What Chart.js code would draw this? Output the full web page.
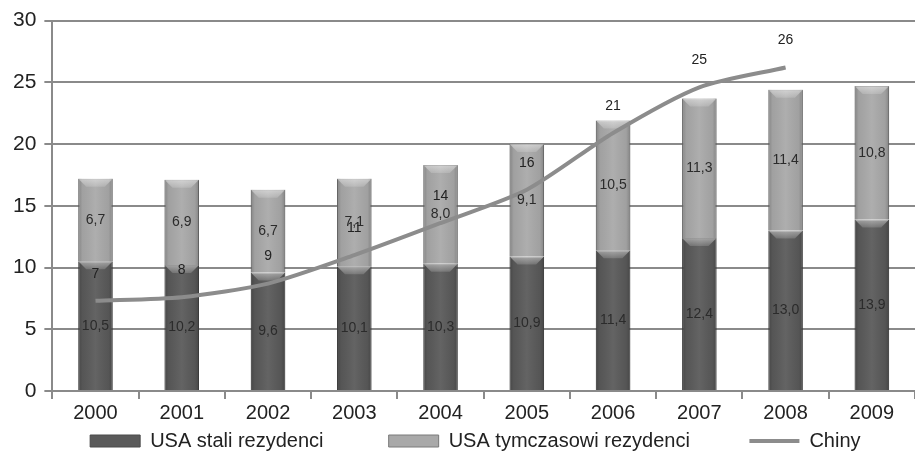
<!DOCTYPE html>
<html lang="pl">
<head>
<meta charset="UTF-8">
<script src="https://cdn.jsdelivr.net/npm/chart.js@4.4.0/dist/chart.umd.min.js"></script>
<title>Rezydenci</title>
<style>
  body { margin: 0; background: #fff; }
  #wrap { width: 915px; height: 456px; }
</style>
</head>
<body>
<div id="wrap"><canvas id="chart" width="915" height="456"></canvas></div>
<script>
const years = ['2000', '2001', '2002', '2003', '2004', '2005', '2006', '2007', '2008', '2009'];
const stali = [10.5, 10.2, 9.6, 10.1, 10.3, 10.9, 11.4, 12.4, 13.0, 13.9];
const tymczasowi = [6.7, 6.9, 6.7, 7.1, 8.0, 9.1, 10.5, 11.3, 11.4, 10.8];
const chiny = [7.3, 7.6, 8.7, 11.0, 13.6, 16.3, 20.9, 24.6, 26.2, null];
const yTicks = [0, 5, 10, 15, 20, 25, 30];
const legendOrder = ['USA stali rezydenci', 'USA tymczasowi rezydenci', 'Chiny'];

const FONT = "'Liberation Sans', Arial, sans-serif";

const fmt = v => v.toFixed(1).replace('.', ',');

// bevel look on the bars, drawn right after each bar dataset (so the line stays on top)
const bevel = {
  id: 'bevel',
  afterDatasetDraw(chart, args) {
    const ds = chart.data.datasets[args.index];
    if (ds.type === 'line') return;
    const ctx = chart.ctx;
    ctx.save();
    args.meta.data.forEach(bar => {
      const left = bar.x - bar.width / 2, right = bar.x + bar.width / 2;
      const top = Math.min(bar.y, bar.base), bottom = Math.max(bar.y, bar.base);
      const g = ctx.createLinearGradient(left, 0, right, 0);
      g.addColorStop(0, 'rgba(0,0,0,0.22)');
      g.addColorStop(0.12, 'rgba(0,0,0,0.05)');
      g.addColorStop(0.5, 'rgba(255,255,255,0.06)');
      g.addColorStop(0.88, 'rgba(0,0,0,0.05)');
      g.addColorStop(1, 'rgba(0,0,0,0.22)');
      ctx.fillStyle = g;
      ctx.fillRect(left, top, right - left, bottom - top);
      const b = 8;
      const tg = ctx.createLinearGradient(0, top, 0, top + b);
      tg.addColorStop(0, 'rgba(255,255,255,0.45)');
      tg.addColorStop(1, 'rgba(255,255,255,0.15)');
      ctx.fillStyle = tg;
      ctx.beginPath();
      ctx.moveTo(left, top);
      ctx.lineTo(right, top);
      ctx.lineTo(right - b, top + b);
      ctx.lineTo(left + b, top + b);
      ctx.closePath();
      ctx.fill();
    });
    ctx.restore();
  }
};

const valueLabels = {
  id: 'valueLabels',
  afterDatasetsDraw(chart) {
    const ctx = chart.ctx;
    ctx.save();
    ctx.textAlign = 'center';
    ctx.textBaseline = 'middle';
    ctx.font = '14px ' + FONT;
    chart.data.datasets.forEach((ds, i) => {
      const meta = chart.getDatasetMeta(i);
      meta.data.forEach((el, j) => {
        const v = ds.data[j];
        if (v == null) return;
        if (ds.type === 'line') {
          ctx.fillStyle = '#222';
          ctx.fillText(String(Math.round(v)), el.x, el.y - 27);
        } else {
          ctx.fillStyle = '#2b2b2b';
          ctx.fillText(fmt(v), el.x, (el.y + el.base) / 2);
        }
      });
    });
    ctx.restore();
  }
};

new Chart(document.getElementById('chart'), {
  data: {
    labels: years,
    datasets: [
      {
        type: 'line',
        label: 'Chiny',
        data: chiny,
        borderColor: '#8c8c8c',
        backgroundColor: '#8c8c8c',
        borderWidth: 4,
        pointRadius: 0,
        tension: 0.25,
        order: 0
      },
      {
        type: 'bar',
        label: 'USA stali rezydenci',
        data: stali,
        backgroundColor: '#5a5a5a',
        borderColor: '#4a4a4a',
        borderWidth: 1,
        barPercentage: 0.5,
        categoryPercentage: 0.8,
        order: 1
      },
      {
        type: 'bar',
        label: 'USA tymczasowi rezydenci',
        data: tymczasowi,
        backgroundColor: '#a9a9a9',
        borderColor: '#7a7a7a',
        borderWidth: 1,
        barPercentage: 0.5,
        categoryPercentage: 0.8,
        order: 1
      }
    ]
  },
  options: {
    responsive: false,
    animation: false,
    layout: { padding: { top: 14, left: 5, right: 0, bottom: -5 } },
    scales: {
      x: {
        stacked: true,
        grid: { display: true, drawOnChartArea: false, offset: true, tickLength: 8, color: '#8a8a8a', lineWidth: 2 },
        border: { color: '#8a8a8a', width: 2 },
        ticks: { color: '#222', font: { family: FONT, size: 20 }, padding: 2 }
      },
      y: {
        stacked: true,
        min: 0,
        max: 30,
        afterBuildTicks: axis => { axis.ticks = yTicks.map(v => ({ value: v })); },
        grid: { color: '#8a8a8a', lineWidth: 2, tickLength: 8 },
        border: { color: '#8a8a8a', width: 2 },
        ticks: { color: '#222', font: { family: FONT, size: 21 }, padding: 8 }
      }
    },
    plugins: {
      legend: {
        position: 'bottom',
        fullSize: false,
        labels: {
          color: '#222',
          font: { family: FONT, size: 20 },
          usePointStyle: true,
          pointStyleWidth: 50,
          boxHeight: 12,
          padding: 4,
          sort: (a, b) => legendOrder.indexOf(a.text.trim()) - legendOrder.indexOf(b.text.trim()),
          generateLabels: chart => {
            const items = Chart.defaults.plugins.legend.labels.generateLabels(chart);
            items.forEach(it => {
              const ds = chart.data.datasets[it.datasetIndex];
              if (ds.type === 'line') {
                it.pointStyle = 'line';
                it.lineWidth = 4;
                it.strokeStyle = '#8c8c8c';
                it.text = it.text + '\u00a0'.repeat(3);
              } else {
                it.pointStyle = 'rect';
                it.lineWidth = 1;
                // wide gap between legend entries, as in the original
                it.text = it.text + '\u00a0'.repeat(it.datasetIndex === 1 ? 11 : 10);
              }
            });
            return items;
          }
        }
      },
      tooltip: { enabled: false }
    }
  },
  plugins: [bevel, valueLabels]
});
</script>
</body>
</html>
